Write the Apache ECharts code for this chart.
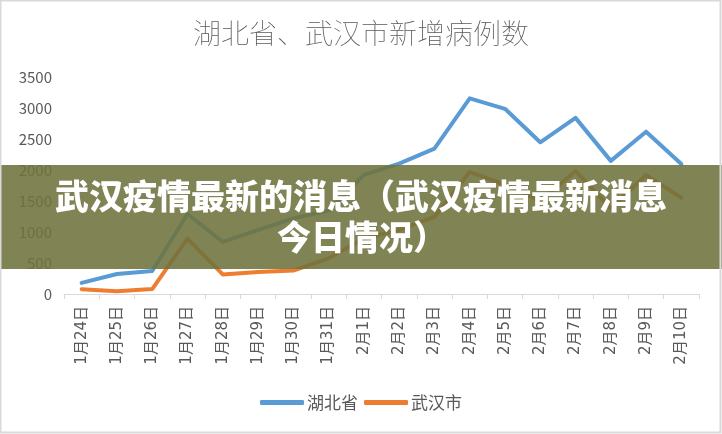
<!DOCTYPE html>
<html>
<head>
<meta charset="UTF-8">
<title>湖北省、武汉市新增病例数</title>
<script src="https://cdn.jsdelivr.net/npm/echarts@6/dist/echarts.min.js"></script>
<style>
  html, body { margin: 0; padding: 0; background: #fff; }
  #main { width: 722px; height: 434px; }
</style>
</head>
<body>
<div id="main"></div>
<script type="text/javascript">
// 日期
var dates = ['1月24日', '1月25日', '1月26日', '1月27日', '1月28日', '1月29日', '1月30日', '1月31日',
  '2月1日', '2月2日', '2月3日', '2月4日', '2月5日', '2月6日', '2月7日', '2月8日', '2月9日', '2月10日'];
// 湖北省新增
var hubei = [180, 323, 371, 1291, 840, 1032, 1220, 1347, 1921, 2103, 2345, 3156, 2987, 2447, 2841, 2147, 2618, 2097];
// 武汉市新增
var wuhan = [77, 46, 80, 892, 315, 356, 378, 576, 894, 1033, 1242, 1967, 1766, 1501, 1985, 1379, 1920, 1552];
var bannerLines = ['武汉疫情最新的消息（武汉疫情最新消息', '今日情况）'];

var myChart = echarts.init(document.getElementById('main'));
var grey = '#595959';
var option = {
  backgroundColor: '#fff',
  textStyle: { fontFamily: '"Noto Sans CJK SC", "Noto Sans", sans-serif' },
  title: {
    text: '湖北省、武汉市新增病例数',
    left: 'center',
    top: 14,
    textStyle: { fontSize: 28, fontWeight: 'lighter', color: grey }
  },
  legend: {
    bottom: 18,
    left: 'center',
    icon: 'roundRect',
    itemWidth: 44,
    itemHeight: 5,
    itemGap: 6,
    textStyle: { fontSize: 17, color: grey, padding: [0, 0, 0, -2] },
    data: ['湖北省', '武汉市']
  },
  grid: { left: 64, right: 23, top: 77, bottom: 140, containLabel: false, outerBoundsMode: 'none' },
  xAxis: {
    type: 'category',
    data: dates,
    boundaryGap: true,
    axisLine: { lineStyle: { color: '#D9D9D9', width: 1 } },
    axisTick: { show: true, length: 5, lineStyle: { color: '#D9D9D9' } },
    axisLabel: { rotate: 90, fontSize: 15, color: grey, margin: 12, interval: 0,
      fontFamily: '"DejaVu Sans", "Noto Sans CJK SC", sans-serif' }
  },
  yAxis: {
    type: 'value',
    min: 0,
    max: 3500,
    interval: 500,
    axisLine: { show: false },
    axisTick: { show: false },
    splitLine: { show: false },
    axisLabel: { fontSize: 15, color: grey, margin: 12, formatter: function (v) { return String(v); } }
  },
  series: [
    { name: '湖北省', type: 'line', data: hubei, showSymbol: false, symbol: 'none', color: '#5B9BD5',
      lineStyle: { width: 4, cap: 'round', join: 'round' } },
    { name: '武汉市', type: 'line', data: wuhan, showSymbol: false, symbol: 'none', color: '#ED7D31',
      lineStyle: { width: 4, cap: 'round', join: 'round' } }
  ],
  graphic: [
    { type: 'rect', z: 100, shape: { x: 0, y: 165, width: 722, height: 104 },
      style: { fill: 'rgba(110,115,60,0.88)' } },
    { type: 'text', z: 101, x: 361, y: 196,
      style: { text: bannerLines[0], fill: '#fff', font: '900 34px "Noto Sans CJK SC"', align: 'center', verticalAlign: 'middle' } },
    { type: 'text', z: 101, x: 362, y: 237,
      style: { text: bannerLines[1], fill: '#fff', font: '900 34px "Noto Sans CJK SC"', align: 'center', verticalAlign: 'middle' } },
    { type: 'rect', z: 102, shape: { x: 0.5, y: 0.5, width: 720, height: 432 },
      style: { fill: 'none', stroke: '#D9D9D9', lineWidth: 2 } }
  ]
};
myChart.setOption(option);
</script>
</body>
</html>
